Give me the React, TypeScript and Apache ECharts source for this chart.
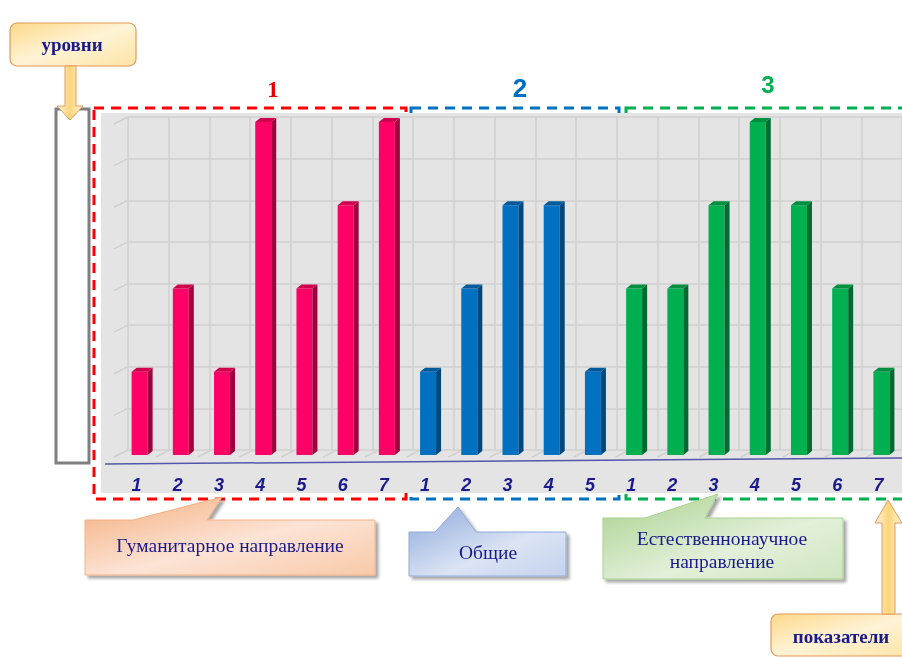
import React, { useEffect, useRef } from "react";
import * as echarts from "echarts";

// ---- data ----
const humanitarian = [2, 4, 2, 8, 4, 6, 8];
const general = [2, 4, 6, 6, 2];
const natural = [4, 4, 6, 8, 6, 4, 2];
const tickLabels = ["1", "2", "3", "4", "5", "6", "7", "1", "2", "3", "4", "5", "1", "2", "3", "4", "5", "6", "7"];
const groupTitles = ["1", "2", "3"];
const groupNames = ["Гуманитарное направление", "Общие", "Естественнонаучное\nнаправление"];
const levelsLabel = "уровни";
const indicatorsLabel = "показатели";
const yMin = 0;
const yMax = 8;
const yStep = 1;

// ---- layout ----
const CAT_W = 41.8;
const BACK_LEFT = 128;
const BACK_TOP = 117;
const BACK_H = 333;
const FRONT_LEFT = 119;
const FRONT_TOP = 122;
const NAVY = "#1a1a8c";

const palettes = [
  { front: "#ff0066", side: "#a0003f", top: "#d0004f" },
  { front: "#0070c0", side: "#00477d", top: "#005a9c" },
  { front: "#00b050", side: "#006b30", top: "#008f3f" },
];

function barRender(pal: { front: string; side: string; top: string }) {
  return (params: any, api: any) => {
    const x = api.value(0);
    const v = api.value(1);
    const t = api.coord([x, v]);
    const b = api.coord([x, 0]);
    const w = 16, dx = 5, dy = 4;
    const x0 = t[0] - w / 2, x1 = t[0] + w / 2;
    return {
      type: "group",
      children: [
        { type: "rect", shape: { x: x0, y: t[1], width: w, height: b[1] - t[1] }, style: { fill: pal.front } },
        { type: "polygon", shape: { points: [[x1, t[1]], [x1 + dx, t[1] - dy], [x1 + dx, b[1] - dy], [x1, b[1]]] }, style: { fill: pal.side } },
        { type: "polygon", shape: { points: [[x0, t[1]], [x1, t[1]], [x1 + dx, t[1] - dy], [x0 + dx, t[1] - dy]] }, style: { fill: pal.top } },
      ],
    };
  };
}

function lin(x2: number, y2: number, stops: [number, string][]) {
  return new echarts.graphic.LinearGradient(0, 0, x2, y2, stops.map(([offset, color]) => ({ offset, color })));
}

export default function App() {
  const ref = useRef<HTMLDivElement>(null);
  useEffect(() => {
    const chart = echarts.init(ref.current!, null, { renderer: "svg" });
    const n = tickLabels.length;
    const wallLines: any[] = [];
    for (let k = 0; k <= 8; k++) {
      const y = BACK_TOP + (k * BACK_H) / 8;
      wallLines.push({ type: "line", z: 3, shape: { x1: BACK_LEFT, y1: y, x2: BACK_LEFT - 14, y2: y + 7 }, style: { stroke: "#d0d0d0", lineWidth: 1.5 } });
    }
    for (let c = 0; c <= n; c++) {
      const x = BACK_LEFT + c * CAT_W;
      wallLines.push({ type: "line", z: 3, shape: { x1: x, y1: BACK_TOP + BACK_H, x2: x - 14, y2: BACK_TOP + BACK_H + 7 }, style: { stroke: "#d0d0d0", lineWidth: 1.5 } });
    }
    const shadow = { shadowBlur: 3, shadowOffsetX: 3, shadowOffsetY: 3, shadowColor: "rgba(0,0,0,0.35)" };
    const textStyle = (text: string, x: number, y: number, size: number, bold = false) => ({
      type: "text", z: 31, x, y,
      style: { text, fill: NAVY, fontSize: size, fontWeight: bold ? "bold" : "normal", fontFamily: "Liberation Serif, Times New Roman, serif", align: "center", verticalAlign: "middle", lineHeight: 23 },
    });
    const dashed = (x: number, w: number, color: string) => ({
      type: "rect", z: 1, shape: { x, y: 108, width: w, height: 391 },
      style: { fill: "none", stroke: color, lineWidth: 3, lineDash: [10, 7] },
    });
    const yellowFill = () => lin(1, 1, [[0, "#fdd98a"], [0.5, "#fff3d6"], [1, "#fde4a4"]]);
    const arrowFill = () => lin(1, 0, [[0, "#fff6dc"], [0.5, "#fcd47a"], [1, "#fff6dc"]]);

    const option: any = {
      animation: false,
      grid: [
        { left: BACK_LEFT, top: BACK_TOP, width: CAT_W * n, height: BACK_H },
        { left: FRONT_LEFT, top: FRONT_TOP, width: CAT_W * n, height: BACK_H },
      ],
      xAxis: [
        { type: "category", gridIndex: 0, data: tickLabels, z: 5, axisLine: { show: false }, axisTick: { show: false }, axisLabel: { show: false }, splitLine: { show: true, lineStyle: { color: "#d0d0d0", width: 1.5 } } },
        {
          type: "category", gridIndex: 1, data: tickLabels, z: 5, axisLine: { show: false }, axisTick: { show: false }, splitLine: { show: false },
          axisLabel: { interval: 0, color: NAVY, fontSize: 18, fontWeight: "bold", fontStyle: "italic", fontFamily: "Liberation Sans, Arial, sans-serif", margin: 21, padding: [0, 6, 0, 0] },
        },
      ],
      yAxis: [
        { type: "value", gridIndex: 0, min: yMin, max: yMax, interval: yStep, z: 5, axisLine: { show: false }, axisTick: { show: false }, axisLabel: { show: false }, splitLine: { show: true, lineStyle: { color: "#d0d0d0", width: 1.5 } } },
        { type: "value", gridIndex: 1, min: yMin, max: yMax, interval: yStep, axisLine: { show: false }, axisTick: { show: false }, axisLabel: { show: false }, splitLine: { show: false } },
      ],
      series: [
        { type: "custom", z: 10, xAxisIndex: 1, yAxisIndex: 1, renderItem: barRender(palettes[0]), data: humanitarian.map((v, i) => [i, v]) },
        { type: "custom", z: 10, xAxisIndex: 1, yAxisIndex: 1, renderItem: barRender(palettes[1]), data: general.map((v, i) => [humanitarian.length + i, v]) },
        { type: "custom", z: 10, xAxisIndex: 1, yAxisIndex: 1, renderItem: barRender(palettes[2]), data: natural.map((v, i) => [humanitarian.length + general.length + i, v]) },
      ],
      graphic: [
        dashed(94, 312, "#ff0000"),
        dashed(411, 208, "#0070c0"),
        dashed(626, 300, "#00b050"),
        { type: "rect", z: 2, shape: { x: 101, y: 113, width: 820, height: 380 }, style: { fill: "#e4e4e4" } },
        ...wallLines,
        { type: "line", z: 12, shape: { x1: 105, y1: 464, x2: 902, y2: 458 }, style: { stroke: "#5555aa", lineWidth: 1.5 } },
        { type: "rect", z: 20, shape: { x: 56, y: 109, width: 33, height: 354 }, style: { fill: "#ffffff", stroke: "#7f7f7f", lineWidth: 3 } },
        // group titles
        { type: "text", z: 30, x: 273, y: 89, style: { text: groupTitles[0], fill: "#e00000", fontSize: 23, fontWeight: "bold", fontFamily: "Liberation Serif, serif", align: "center", verticalAlign: "middle" } },
        { type: "text", z: 30, x: 520, y: 88, style: { text: groupTitles[1], fill: "#0070c0", fontSize: 26, fontWeight: "bold", fontFamily: "Liberation Sans, Arial, sans-serif", align: "center", verticalAlign: "middle" } },
        { type: "text", z: 30, x: 768, y: 84, style: { text: groupTitles[2], fill: "#00b050", fontSize: 24, fontWeight: "bold", fontFamily: "Liberation Sans, Arial, sans-serif", align: "center", verticalAlign: "middle" } },
        // уровни
        { type: "rect", z: 30, shape: { x: 10, y: 23, width: 126, height: 43, r: 7 }, style: { fill: yellowFill(), stroke: "#e39a5a", lineWidth: 1.2 } },
        textStyle(levelsLabel, 72, 44, 19, true),
        { type: "polygon", z: 30, shape: { points: [[65, 66], [76, 66], [76, 106], [83, 106], [70, 120], [57, 106], [65, 106]] }, style: { fill: arrowFill(), stroke: "#e39a5a", lineWidth: 1 } },
        // показатели
        { type: "rect", z: 30, shape: { x: 771, y: 614, width: 150, height: 42, r: 7 }, style: { fill: yellowFill(), stroke: "#e39a5a", lineWidth: 1.2 } },
        textStyle(indicatorsLabel, 841, 636, 19, true),
        { type: "polygon", z: 30, shape: { points: [[882, 614], [895, 614], [895, 523], [902, 523], [888, 500], [875, 523], [882, 523]] }, style: { fill: arrowFill(), stroke: "#e39a5a", lineWidth: 1 } },
        // callouts
        { type: "polygon", z: 30, shape: { points: [[85, 520], [133, 520], [222, 497], [207, 520], [375, 520], [375, 575], [85, 575]] }, style: { fill: lin(1, 1, [[0, "#f4ad7c"], [0.55, "#fce4d6"], [1, "#f8c9a8"]]), stroke: "#f4b183", lineWidth: 1, ...shadow } },
        textStyle(groupNames[0], 230, 545, 19.5),
        { type: "polygon", z: 30, shape: { points: [[409, 532], [435, 532], [458, 507], [476, 532], [566, 532], [566, 576], [409, 576]] }, style: { fill: lin(1, 1, [[0, "#8eaadb"], [0.6, "#dbe4f4"], [1, "#c3d2ee"]]), stroke: "#8eaadb", lineWidth: 1, ...shadow } },
        textStyle(groupNames[1], 488, 552, 19.5),
        { type: "polygon", z: 30, shape: { points: [[603, 518], [645, 518], [718, 494], [705, 518], [843, 518], [843, 579], [603, 579]] }, style: { fill: lin(1, 1, [[0, "#a9d18e"], [0.6, "#e3f0da"], [1, "#cfe5c0"]]), stroke: "#a9d18e", lineWidth: 1, ...shadow } },
        textStyle(groupNames[2], 722, 550, 19.5),
      ],
    };
    chart.setOption(option);
    return () => chart.dispose();
  }, []);
  return <div ref={ref} style={{ position: "fixed", left: 0, top: 0, width: 902, height: 657, overflow: "hidden" }} />;
}
